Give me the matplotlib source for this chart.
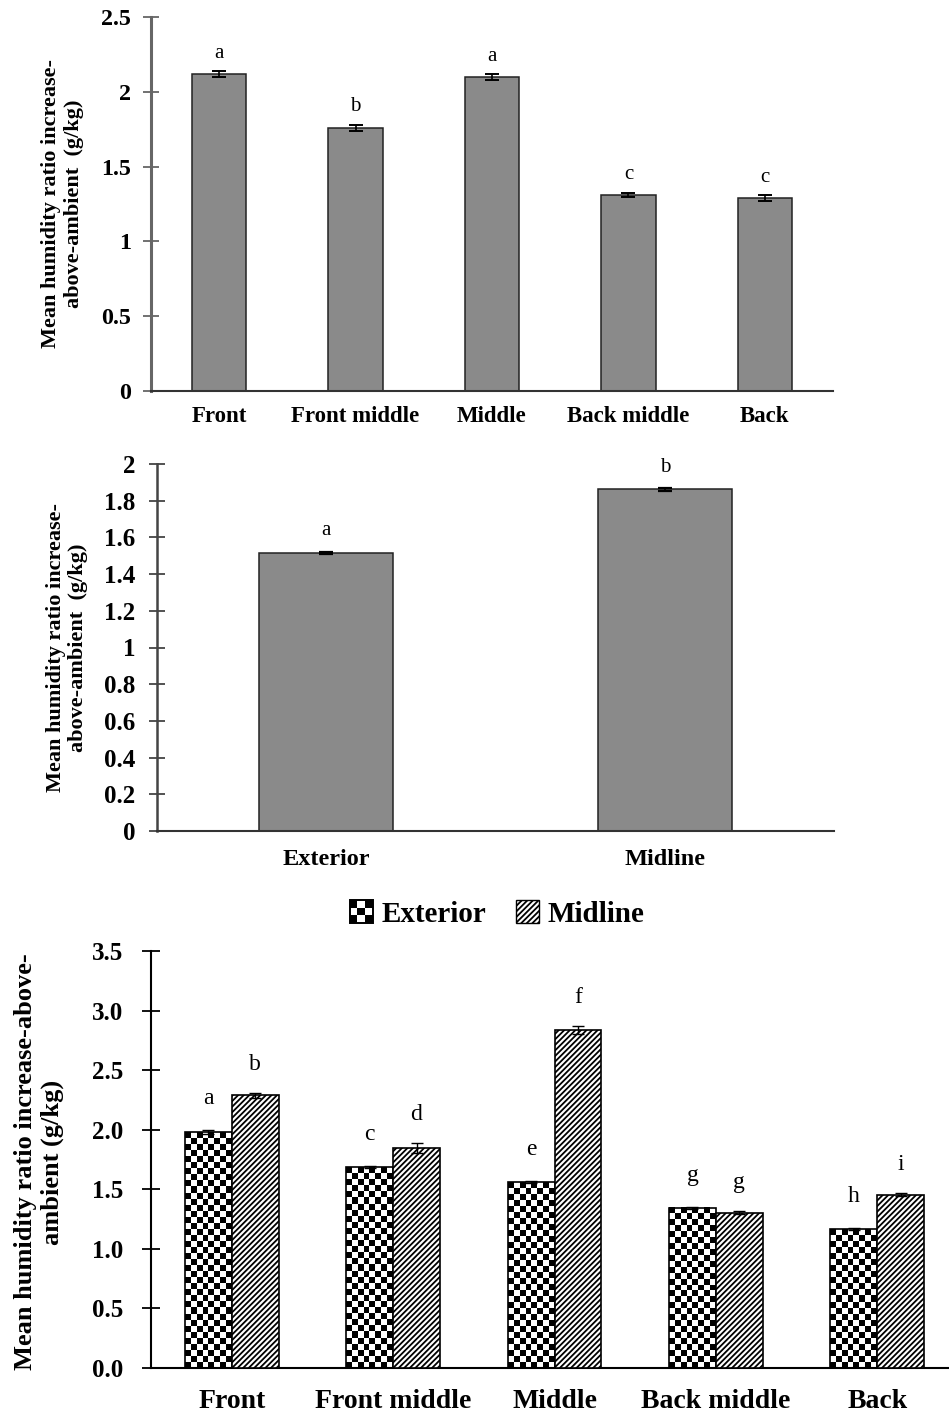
import numpy as np
import matplotlib
matplotlib.use("Agg")
import matplotlib.pyplot as plt
from matplotlib.patches import Rectangle
from matplotlib.legend_handler import HandlerBase

# ---------------- data ----------------
pos_categories = ["Front", "Front middle", "Middle", "Back middle", "Back"]
pos_means = [2.12, 1.76, 2.10, 1.31, 1.29]
pos_errors = [0.02, 0.02, 0.02, 0.015, 0.02]
pos_letters = ["a", "b", "a", "c", "c"]

side_categories = ["Exterior", "Midline"]
side_means = [1.515, 1.862]
side_errors = [0.008, 0.008]
side_letters = ["a", "b"]

exterior_means = [1.98, 1.685, 1.56, 1.345, 1.165]
exterior_errors = [0.02, 0.01, 0.01, 0.01, 0.01]
exterior_letters = ["a", "c", "e", "g", "h"]
midline_means = [2.29, 1.845, 2.835, 1.305, 1.455]
midline_errors = [0.02, 0.04, 0.035, 0.01, 0.015]
midline_letters = ["b", "d", "f", "g", "i"]

yticks1 = [0, 0.5, 1, 1.5, 2, 2.5]
yticks2 = [0, 0.2, 0.4, 0.6, 0.8, 1, 1.2, 1.4, 1.6, 1.8, 2]
yticks3 = [0, 0.5, 1.0, 1.5, 2.0, 2.5, 3.0, 3.5]

ylabel12 = "Mean humidity ratio increase-\nabove-ambient  (g/kg)"
ylabel3 = "Mean humidity ratio increase-above-\nambient (g/kg)"

# ---------------- style ----------------
SERIF = ["Liberation Serif", "DejaVu Serif"]
plt.rcParams["font.family"] = SERIF
plt.rcParams["hatch.linewidth"] = 1.3

W, H = 949, 1416
fig = plt.figure(figsize=(W / 100, H / 100), dpi=100)


def px_axes(left, top, right, bottom):
    return fig.add_axes([left / W, 1 - bottom / H, (right - left) / W, (bottom - top) / H])


def style_axes(ax, spine_color, left_lw, bottom_color, bottom_lw, ticks, fmt, tick_fs, ypad,
               xlab_fs, xpad, tick_len):
    for s in ["top", "right"]:
        ax.spines[s].set_visible(False)
    ax.spines["left"].set_color(spine_color)
    ax.spines["left"].set_linewidth(left_lw)
    ax.spines["bottom"].set_color(bottom_color)
    ax.spines["bottom"].set_linewidth(bottom_lw)
    ax.set_yticks(ticks)
    ax.set_yticklabels([fmt % t for t in ticks], fontsize=tick_fs, fontweight="bold")
    ax.tick_params(axis="y", direction="inout", length=tick_len, width=1.3, color=spine_color, pad=ypad)
    ax.tick_params(axis="x", length=0, pad=xpad)
    for lab in ax.get_xticklabels():
        lab.set_fontsize(xlab_fs)
        lab.set_fontweight("bold")


# ---------------- panel 1 ----------------
ax1 = px_axes(151, 17, 833, 391)
x1 = np.arange(len(pos_categories))
ax1.bar(x1, pos_means, width=0.40, color="#8a8a8a", edgecolor="#222222", linewidth=1.1, zorder=2)
ax1.errorbar(x1, pos_means, yerr=pos_errors, fmt="none", ecolor="black", elinewidth=1.2,
             capsize=5, capthick=1.4, zorder=3)
for xi, m, e, l in zip(x1, pos_means, pos_errors, pos_letters):
    ax1.annotate(l, (xi, m + e), xytext=(0, 6), textcoords="offset points",
                 ha="center", va="bottom", fontsize=15)
ax1.set_xlim(-0.5, 4.5)
ax1.set_ylim(0, 2.5)
ax1.set_xticks(x1)
ax1.set_xticklabels(pos_categories)
style_axes(ax1, "#666666", 2.2, "#333333", 1.5, yticks1, "%g", 17.3, 9, 16.5, 11, 11)
fig.text(63 / W, 1 - 204 / H, ylabel12, rotation=90, ha="center", va="center",
         fontsize=16, fontweight="bold", multialignment="center", linespacing=1.2)

# ---------------- panel 2 ----------------
ax2 = px_axes(157, 464, 834, 831)
x2 = np.arange(len(side_categories))
ax2.bar(x2, side_means, width=0.395, color="#8a8a8a", edgecolor="#222222", linewidth=1.1, zorder=2)
ax2.errorbar(x2, side_means, yerr=side_errors, fmt="none", ecolor="black", elinewidth=1.2,
             capsize=5, capthick=1.6, zorder=3)
for xi, m, e, l in zip(x2, side_means, side_errors, side_letters):
    ax2.annotate(l, (xi, m + e), xytext=(0, 8), textcoords="offset points",
                 ha="center", va="bottom", fontsize=15)
ax2.set_xlim(-0.5, 1.5)
ax2.set_ylim(0, 2)
ax2.set_xticks(x2)
ax2.set_xticklabels(side_categories)
style_axes(ax2, "#444444", 1.8, "#333333", 1.5, yticks2, "%g", 18, 10, 17.5, 13, 11.5)
fig.text(67 / W, 1 - 648 / H, ylabel12, rotation=90, ha="center", va="center",
         fontsize=16, fontweight="bold", multialignment="center", linespacing=1.2)

# ---------------- panel 3 ----------------
ax3 = px_axes(151, 951, 958, 1368)
x3 = np.arange(len(pos_categories))
bw = 0.29
ax3.set_xlim(-0.5, 4.5)
ax3.set_ylim(0, 3.5)

ext_bars = ax3.bar(x3 - bw / 2, exterior_means, width=bw, facecolor="none",
                   edgecolor="black", linewidth=1.2, zorder=3)
mid_bars = ax3.bar(x3 + bw / 2, midline_means, width=bw, facecolor="white",
                   edgecolor="black", linewidth=1.2, hatch="//////", zorder=3)

# checker texture for exterior bars, sized in pixels (~6 px cells)
cell_px = 6.0
for rect in ext_bars:
    x0, y0 = rect.get_x(), rect.get_y()
    x1b, y1b = x0 + rect.get_width(), y0 + rect.get_height()
    p0 = ax3.transData.transform((x0, y0))
    p1 = ax3.transData.transform((x1b, y1b))
    nx = max(1, int(round((p1[0] - p0[0]) / cell_px)))
    ny = max(1, int(round((p1[1] - p0[1]) / cell_px)))
    ii, jj = np.indices((ny, nx))
    chk = ((ii + jj) % 2).astype(float)
    ax3.imshow(chk, cmap="gray", vmin=0, vmax=1, extent=(x0, x1b, y0, y1b),
               origin="upper", interpolation="nearest", aspect="auto", zorder=2)

ax3.errorbar(x3 - bw / 2, exterior_means, yerr=exterior_errors, fmt="none", ecolor="black",
             elinewidth=1.0, capsize=4, capthick=1.0, zorder=4)
ax3.errorbar(x3 + bw / 2, midline_means, yerr=midline_errors, fmt="none", ecolor="black",
             elinewidth=1.0, capsize=4, capthick=1.0, zorder=4)
for xi, m, e, l in zip(x3 - bw / 2, exterior_means, exterior_errors, exterior_letters):
    ax3.annotate(l, (xi, m + e), xytext=(0, 15), textcoords="offset points",
                 ha="center", va="bottom", fontsize=17)
for xi, m, e, l in zip(x3 + bw / 2, midline_means, midline_errors, midline_letters):
    ax3.annotate(l, (xi, m + e), xytext=(0, 13), textcoords="offset points",
                 ha="center", va="bottom", fontsize=17)
ax3.set_xlim(-0.5, 4.5)
ax3.set_ylim(0, 3.5)
ax3.set_xticks(x3)
ax3.set_xticklabels(pos_categories)
style_axes(ax3, "black", 1.5, "black", 1.5, yticks3, "%.1f", 18, 13.5, 20, 15, 12.5)
fig.text(39 / W, 1 - 1162 / H, ylabel3, rotation=90, ha="center", va="center",
         fontsize=19, fontweight="bold", multialignment="center", linespacing=1.2)


# ---------------- legend ----------------
class CheckerHandler(HandlerBase):
    def create_artists(self, legend, orig_handle, xdescent, ydescent, width, height, fontsize, trans):
        n = 3
        arts = []
        cw, ch = width / n, height / n
        for i in range(n):
            for j in range(n):
                c = "black" if (i + j) % 2 == 0 else "white"
                arts.append(Rectangle((-xdescent + j * cw, -ydescent + i * ch), cw, ch,
                                      facecolor=c, edgecolor="none", transform=trans))
        arts.append(Rectangle((-xdescent, -ydescent), width, height, facecolor="none",
                              edgecolor="black", linewidth=1.4, transform=trans))
        return arts


ext_handle = Rectangle((0, 0), 1, 1, facecolor="white", edgecolor="black")
mid_handle = Rectangle((0, 0), 1, 1, facecolor="white", edgecolor="black", hatch="//////", linewidth=1.0)
fig.legend(handles=[ext_handle, mid_handle], labels=["Exterior", "Midline"],
           handler_map={ext_handle: CheckerHandler()},
           loc="center", bbox_to_anchor=(497 / W, 1 - 914 / H), ncol=2, frameon=False,
           prop={"family": SERIF, "weight": "bold", "size": 21},
           handlelength=0.8, handleheight=0.8, handletextpad=0.3, columnspacing=1.0)

fig.savefig("out.png", dpi=100)
